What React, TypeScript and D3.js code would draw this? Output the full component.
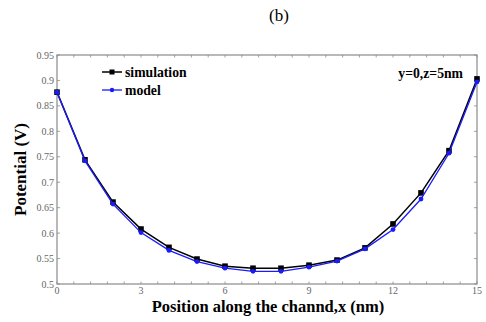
import React from "react";
import * as d3 from "d3";

const positions = [0, 1, 2, 3, 4, 5, 6, 7, 8, 9, 10, 11, 12, 13, 14, 15];
const simulation = [0.877, 0.744, 0.661, 0.608, 0.572, 0.549, 0.535, 0.531, 0.531, 0.537, 0.547, 0.571, 0.618, 0.679, 0.762, 0.903];
const model = [0.877, 0.742, 0.657, 0.601, 0.566, 0.544, 0.531, 0.525, 0.525, 0.533, 0.545, 0.569, 0.607, 0.667, 0.757, 0.897];
const xTicks = [0, 3, 6, 9, 12, 15];
const yTicks = [0.5, 0.55, 0.6, 0.65, 0.7, 0.75, 0.8, 0.85, 0.9, 0.95];
const yTickLabels = ["0.5", "0.55", "0.6", "0.65", "0.7", "0.75", "0.8", "0.85", "0.9", "0.95"];

const W = 486, H = 322;
const L = 57, R = 477, T = 55, B = 284;
const serif = "'Liberation Serif', 'Times New Roman', serif";

export default function App() {
  const x = d3.scaleLinear().domain([0, 15]).range([L, R]);
  const y = d3.scaleLinear().domain([0.5, 0.95]).range([B, T]);
  const line = d3.line<number>().x((_, i) => x(positions[i])).y((v) => y(v));
  const minorX = d3.range(0, 15.001, 0.6);
  const axisColor = "#8a8a8a";
  return (
    <div style={{ position: "absolute", left: 0, top: 0 }}>
      <svg width={W} height={H} style={{ display: "block" }}>
        <rect width={W} height={H} fill="#fff" />
        <text x={279} y={21} textAnchor="middle" fontFamily={serif} fontSize={17} fill="#000">(b)</text>
        <rect x={L} y={T} width={R - L} height={B - T} fill="none" stroke={axisColor} strokeWidth={1.2} />
        {minorX.map((v, i) => (
          <g key={"mx" + i}>
            <line x1={x(v)} x2={x(v)} y1={B} y2={B - 2.5} stroke={axisColor} strokeWidth={0.8} />
            <line x1={x(v)} x2={x(v)} y1={T} y2={T + 2.5} stroke={axisColor} strokeWidth={0.8} />
          </g>
        ))}
        {yTicks.map((v, i) => (
          <g key={"y" + i}>
            <line x1={L} x2={L + 3} y1={y(v)} y2={y(v)} stroke={axisColor} strokeWidth={0.8} />
            <line x1={R} x2={R - 3} y1={y(v)} y2={y(v)} stroke={axisColor} strokeWidth={0.8} />
            <text x={L - 3} y={y(v) + 3.5} textAnchor="end" fontFamily={serif} fontSize={10} fill="#666">{yTickLabels[i]}</text>
          </g>
        ))}
        {xTicks.map((v, i) => (
          <text key={"x" + i} x={x(v)} y={B + 10} textAnchor="middle" fontFamily={serif} fontSize={10} fill="#666">{v}</text>
        ))}
        <text x={268} y={312} textAnchor="middle" fontFamily={serif} fontWeight="bold" fontSize={16.5} fill="#000">Position along the channd,x (nm)</text>
        <text transform={`translate(26,${(T + B) / 2}) rotate(-90)`} textAnchor="middle" fontFamily={serif} fontWeight="bold" fontSize={17} fill="#000">Potential (V)</text>

        <path d={line(simulation) || ""} fill="none" stroke="#000" strokeWidth={1.5} />
        {simulation.map((v, i) => (
          <rect key={"s" + i} x={x(positions[i]) - 2.8} y={y(v) - 2.8} width={5.6} height={5.6} fill="#000" />
        ))}
        <path d={line(model) || ""} fill="none" stroke="#1a1aff" strokeWidth={1.3} />
        {model.map((v, i) => (
          <circle key={"m" + i} cx={x(positions[i])} cy={y(v)} r={2.4} fill="#1a1aff" />
        ))}

        <line x1={102} x2={122} y1={72} y2={72} stroke="#000" strokeWidth={1.5} />
        <rect x={109.5} y={69.5} width={5} height={5} fill="#000" />
        <text x={125} y={77} fontFamily={serif} fontWeight="bold" fontSize={13.7} fill="#000">simulation</text>
        <line x1={102} x2={122} y1={90} y2={90} stroke="#1a1aff" strokeWidth={1.3} />
        <circle cx={112} cy={90} r={2.2} fill="#1a1aff" />
        <text x={125} y={95} fontFamily={serif} fontWeight="bold" fontSize={13.7} fill="#000">model</text>

        <text x={463} y={78} textAnchor="end" fontFamily={serif} fontWeight="bold" fontSize={13.7} fill="#000">y=0,z=5nm</text>
      </svg>
    </div>
  );
}
